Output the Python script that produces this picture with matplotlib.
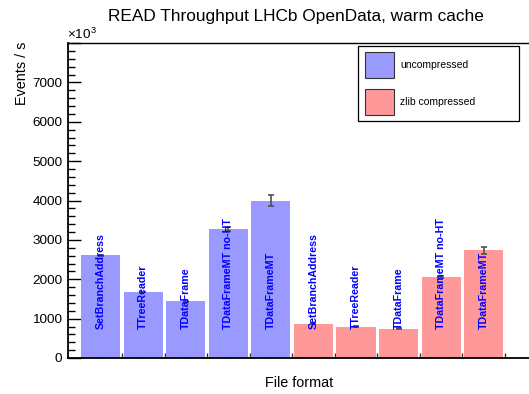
import matplotlib
matplotlib.use("Agg")
import matplotlib.pyplot as plt
from matplotlib.patches import Rectangle
from matplotlib.ticker import MultipleLocator, FixedLocator, NullFormatter, FuncFormatter

plt.rcParams['font.family'] = ['Liberation Sans', 'DejaVu Sans']
plt.rcParams['mathtext.fontset'] = 'custom'
plt.rcParams['mathtext.rm'] = 'Liberation Sans'
plt.rcParams['mathtext.it'] = 'Liberation Sans'

methods = ["SetBranchAddress", "TTreeReader", "TDataFrame",
           "TDataFrameMT no-HT", "TDataFrameMT"]
uncompressed = [2610, 1675, 1440, 3275, 4000]
uncompressed_err = [10, 10, 10, 60, 145]
zlib = [870, 795, 745, 2055, 2735]
zlib_err = [10, 10, 20, 20, 85]
series_names = ["uncompressed", "zlib compressed"]

blue = "#9999ff"
red = "#ff9999"

W, H = 529, 394
fig = plt.figure(figsize=(W / 100, H / 100), dpi=100)
ax_l, ax_r, ax_t, ax_b = 68, 529, 43, 358
ax = fig.add_axes([ax_l / W, 1 - ax_b / H, (ax_r - ax_l) / W, (ax_b - ax_t) / H])

labels = methods + methods
values = uncompressed + zlib
errs = uncompressed_err + zlib_err
colors = [blue] * len(uncompressed) + [red] * len(zlib)
xs = list(range(len(values)))

ax.bar([x + 0.04 for x in xs], values, width=0.92, align='edge',
       color=colors, edgecolor='none', zorder=2)
ax.errorbar([x + 0.5 for x in xs], values, yerr=errs, fmt='none',
            ecolor='#505050', elinewidth=1.2, capsize=2.5, capthick=1.2, zorder=3)
for x, lab in zip(xs, labels):
    ax.text(x + 0.5, 736, lab, rotation=90, ha='center', va='bottom',
            color='#0000ff', fontsize=7.7, fontweight='bold', zorder=4)

ax.set_xlim(-0.268, 10.566)
ax.set_ylim(0, 8000)

ax.yaxis.set_major_locator(MultipleLocator(1000))
ax.yaxis.set_minor_locator(MultipleLocator(200))
ax.yaxis.set_major_formatter(FuncFormatter(lambda v, p: "" if v >= 7999 else f"{v:.0f}"))
ax.xaxis.set_major_locator(FixedLocator(list(range(1, 11))))
ax.xaxis.set_minor_locator(FixedLocator([i + 0.5 for i in range(10)]))
ax.xaxis.set_major_formatter(NullFormatter())
ax.tick_params(axis='y', which='major', direction='in', length=9.5, width=1.0,
               labelsize=9.7, pad=4)
ax.tick_params(axis='y', which='minor', direction='in', length=5, width=1.0)
ax.tick_params(axis='x', which='major', direction='in', length=3.5, width=1.0,
               color='#333333')
ax.tick_params(axis='x', which='minor', direction='in', length=2, width=0.8,
               color='#777777')

for s in ['left', 'bottom']:
    ax.spines[s].set_linewidth(1.3)
ax.spines['top'].set_linewidth(1.0)
ax.spines['right'].set_visible(False)

fig.text(296 / W, 1 - 17 / H, "READ Throughput LHCb OpenData, warm cache",
         ha='center', va='center', fontsize=12.4)
fig.text(299 / W, 1 - 383 / H, "File format", ha='center', va='center', fontsize=10.4)
fig.text(22 / W, 1 - 42 / H, "Events / s", ha='center', va='top', rotation=90,
         fontsize=10.4)
fig.text(67 / W, 1 - 42 / H, r"$\times10^{3}$", ha='left', va='bottom', fontsize=9.7)

# legend box
def fr(x0, y0, x1, y1, **kw):
    return Rectangle((x0 / W, 1 - y1 / H), (x1 - x0) / W, (y1 - y0) / H,
                     transform=fig.transFigure, **kw)

fig.patches.append(fr(358, 46, 519, 121, facecolor='white', edgecolor='black',
                      linewidth=0.9, zorder=5))
fig.patches.append(fr(365, 52, 394, 78, facecolor=blue, edgecolor='#333333',
                      linewidth=0.8, zorder=6))
fig.patches.append(fr(365, 89, 394, 115, facecolor=red, edgecolor='#333333',
                      linewidth=0.8, zorder=6))
fig.text(400 / W, 1 - 65 / H, series_names[0], ha='left', va='center', fontsize=7.5,
         zorder=7)
fig.text(400 / W, 1 - 102 / H, series_names[1], ha='left', va='center', fontsize=7.5,
         zorder=7)

fig.savefig("out.png", dpi=100)
